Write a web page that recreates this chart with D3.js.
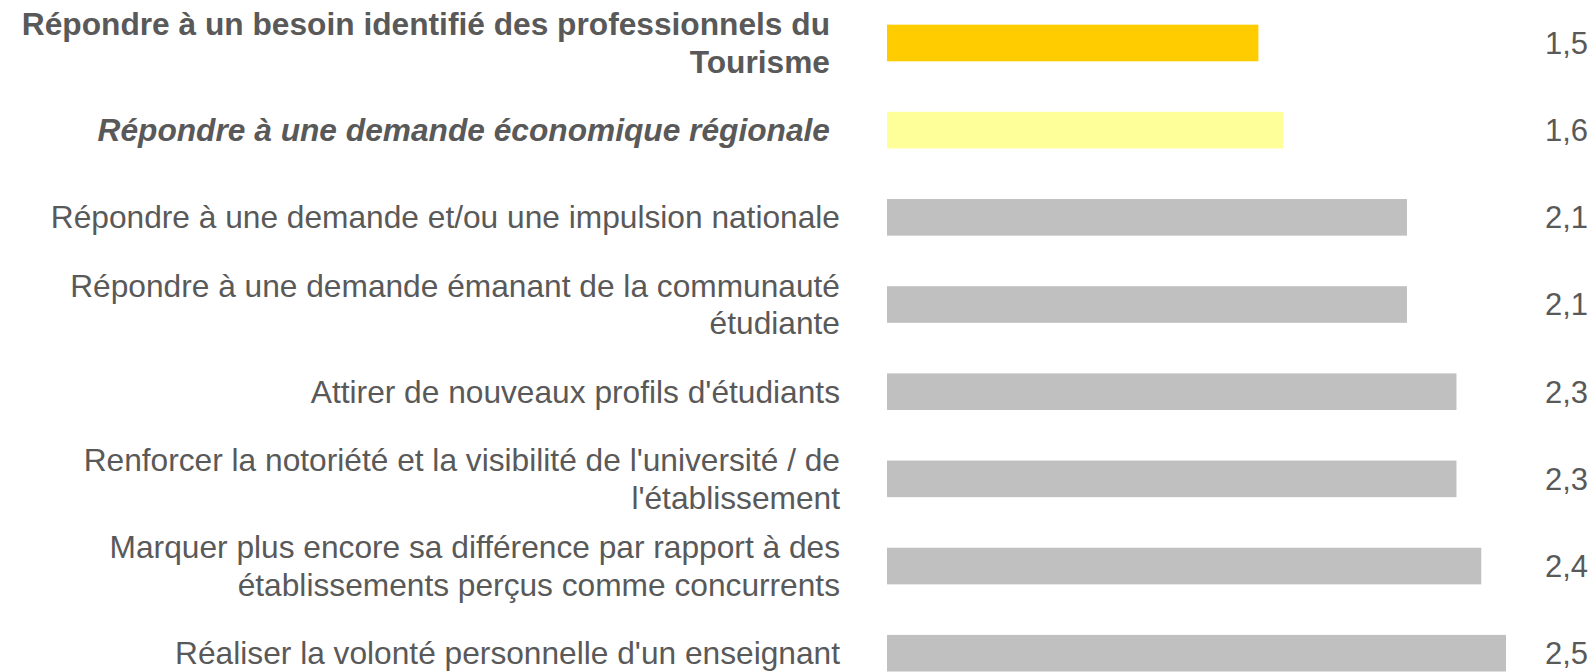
<!DOCTYPE html>
<html>
<head>
<meta charset="utf-8">
<script src="https://cdn.jsdelivr.net/npm/d3@7"></script>
<style>
  html, body { margin: 0; padding: 0; background: #fff; }
  svg { display: block; font-family: "Liberation Sans", Arial, sans-serif; }
</style>
</head>
<body>
<svg></svg>
<script>
// categories, one array of lines per bar (top to bottom)
const categories = [
    ["Répondre à un besoin identifié des professionnels du", "Tourisme"],
    ["Répondre à une demande économique régionale"],
    ["Répondre à une demande et/ou une impulsion nationale"],
    ["Répondre à une demande émanant de la communauté", "étudiante"],
    ["Attirer de nouveaux profils d'étudiants"],
    ["Renforcer la notoriété et la visibilité de l'université / de", "l'établissement"],
    ["Marquer plus encore sa différence par rapport à des", "établissements perçus comme concurrents"],
    ["Réaliser la volonté personnelle d'un enseignant"]
];
const values = [1.5, 1.6, 2.1, 2.1, 2.3, 2.3, 2.4, 2.5];
const valueLabels = ["1,5", "1,6", "2,1", "2,1", "2,3", "2,3", "2,4", "2,5"];

const barColors = ["#FFCC00", "#FFFF99", "#C0C0C0", "#C0C0C0", "#C0C0C0", "#C0C0C0", "#C0C0C0", "#C0C0C0"];
const labelWeight = ["bold", "bold", "normal", "normal", "normal", "normal", "normal", "normal"];
const labelStyle = ["normal", "italic", "normal", "normal", "normal", "normal", "normal", "normal"];

const width = 1594;
const height = 672;
const svg = d3.select('svg').attr("width", width).attr("height", height);

const textColor = "#595959";
const labelSize = 31.7;
const valueSize = 31;

const idx = d3.range(values.length);

const yScale = d3.scaleBand().domain(idx).range([-0.6, 696.8]).paddingInner(0.58).paddingOuter(0.29);
const xScale = d3.scaleLinear().domain([0, d3.max(values)]).range([887, 1506]);
const mid = i => yScale(i) + yScale.bandwidth() / 2;

// bars
svg.selectAll('rect').data(idx).enter().append('rect')
    .attr("x", xScale(0))
    .attr("y", i => yScale(i))
    .attr("width", i => xScale(values[i]) - xScale(0))
    .attr("height", yScale.bandwidth())
    .attr("fill", i => barColors[i]);

// category labels
const labelX = 840;
const lineH = 1.19;
const labels = svg.selectAll('text.cat').data(idx).enter().append('text')
    .attr("class", "cat")
    .attr("text-anchor", "end")
    .attr("font-size", labelSize)
    .attr("fill", textColor)
    .attr("font-weight", i => labelWeight[i])
    .attr("font-style", i => labelStyle[i])
    .attr("y", mid);

labels.each(function(i) {
    const lines = categories[i];
    const x = labelWeight[i] === "bold" ? labelX - 10 : labelX;
    const first = -(lines.length - 1) * lineH / 2 + 0.35;
    d3.select(this).selectAll('tspan').data(lines).enter().append('tspan')
        .attr("x", x)
        .attr("dy", (d, j) => j === 0 ? first + "em" : lineH + "em")
        .text(d => d);
});

// value labels
svg.selectAll('text.val').data(idx).enter().append('text')
    .attr("class", "val")
    .attr("text-anchor", "end")
    .attr("x", 1588)
    .attr("y", mid)
    .attr("dy", "0.35em")
    .attr("font-size", valueSize)
    .attr("fill", textColor)
    .text(i => valueLabels[i]);
</script>
</body>
</html>
